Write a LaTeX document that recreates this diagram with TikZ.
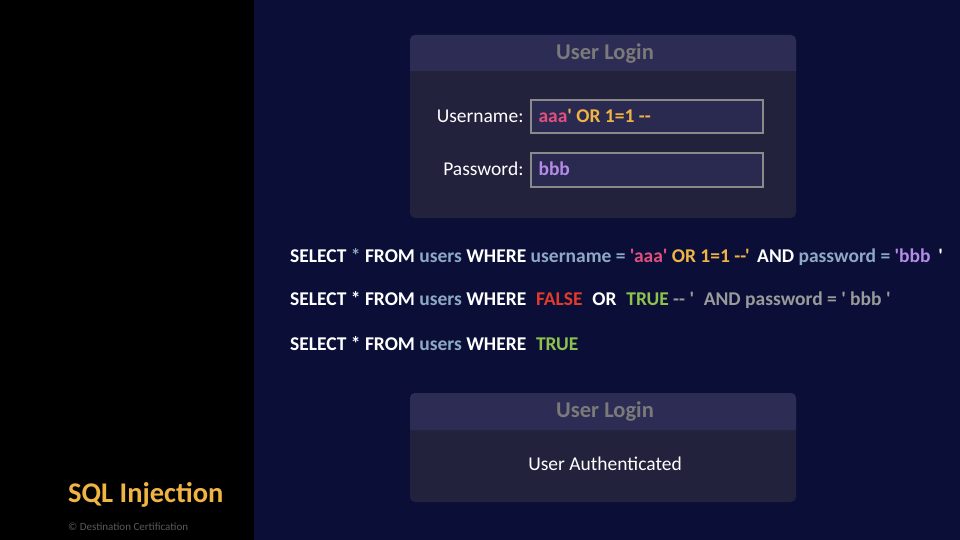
\documentclass[tikz,border=0pt]{standalone}
\usepackage{fontspec}
\setmainfont{Carlito}[Ligatures=TeXOff]
\definecolor{panel}{HTML}{0B0F38}
\definecolor{boxbody}{HTML}{22223D}
\definecolor{boxhead}{HTML}{2C2C54}
\definecolor{fieldbg}{HTML}{2A2A50}
\definecolor{fieldline}{HTML}{8A8A8A}
\definecolor{headtxt}{HTML}{7A7A7A}
\definecolor{tblue}{HTML}{8EA9C6}
\definecolor{tpink}{HTML}{E0507C}
\definecolor{torange}{HTML}{F0B443}
\definecolor{tpurple}{HTML}{B58BE8}
\definecolor{tred}{HTML}{E23A2A}
\definecolor{tgreen}{HTML}{8DC24C}
\definecolor{tgrey}{HTML}{9A9A9A}
\tikzset{
  headtext/.style={text=headtxt,font=\fontsize{22.5}{26}\selectfont\bfseries},
  labeltext/.style={text=white,font=\fontsize{19.5}{23}\selectfont,anchor=east},
  fieldtext/.style={font=\fontsize{19.5}{23}\selectfont\bfseries,anchor=west},
  sqltext/.style={text=white,font=\fontsize{19.5}{23}\selectfont\bfseries,anchor=west,inner sep=0pt},
  field/.style={fill=fieldbg,draw=fieldline,line width=1.6pt}
}
\begin{document}
\begin{tikzpicture}[x=1pt,y=-1pt]
        \useasboundingbox (0,0) rectangle (960,540);
        \fill[black] (0,0) rectangle (254,540);
        \fill[panel] (254,0) rectangle (960,540);

        % login form
        \fill[boxbody,rounded corners=5] (410,35) rectangle (796,218);
        \fill[boxhead] (410,71) {[rounded corners=5] -- (410,35) -- (796,35)} -- (796,71) -- cycle;
        \node[headtext] (loginhead) at (605,54) {User Login};

        \node[labeltext] (userlabel) at (527,116) {Username:};
        \draw[field] (531,100) rectangle (763,133);
        \node[fieldtext] (userfield) at (535,116) {\textcolor{tpink}{aaa}\textcolor{torange}{' OR 1=1 --}};

        \node[labeltext] (passlabel) at (527,169) {Password:};
        \draw[field] (531,153) rectangle (763,187);
        \node[fieldtext,text=tpurple] (passfield) at (535,169) {bbb};

        % queries
        \node[sqltext] (query) at (290,257) {SELECT \textcolor{tblue}{*} FROM \textcolor{tblue}{users} WHERE \textcolor{tblue}{username =} \textcolor{tpink}{'aaa'} \textcolor{torange}{OR 1=1 --'}\, AND \textcolor{tblue}{password =} \textcolor{tpurple}{'bbb}\, '};
        \node[sqltext] (reduced) at (290,300) {SELECT * FROM \textcolor{tblue}{users} WHERE\enspace\textcolor{tred}{FALSE}\enspace OR\enspace\textcolor{tgreen}{TRUE} \textcolor{tgrey}{-- '\enspace AND password = ' bbb '}};
        \node[sqltext] (result) at (290,344) {SELECT * FROM \textcolor{tblue}{users} WHERE\enspace\textcolor{tgreen}{TRUE}};

        % outcome
        \fill[boxbody,rounded corners=5] (410,393) rectangle (796,502);
        \fill[boxhead] (410,430) {[rounded corners=5] -- (410,393) -- (796,393)} -- (796,430) -- cycle;
        \node[headtext] (outhead) at (605,412) {User Login};
        \node[text=white,font=\fontsize{19.5}{23}\selectfont] (outcome) at (605,464) {User Authenticated};

        \node[anchor=west,inner sep=0pt,text=torange,font=\fontsize{28.5}{32}\selectfont\bfseries] (title) at (68,495) {SQL Injection};
        \node[anchor=west,inner sep=0pt,text=black!65!white,font=\fontsize{11}{13}\selectfont] (credit) at (68,527) {© Destination Certification};
      \end{tikzpicture}
\end{document}
